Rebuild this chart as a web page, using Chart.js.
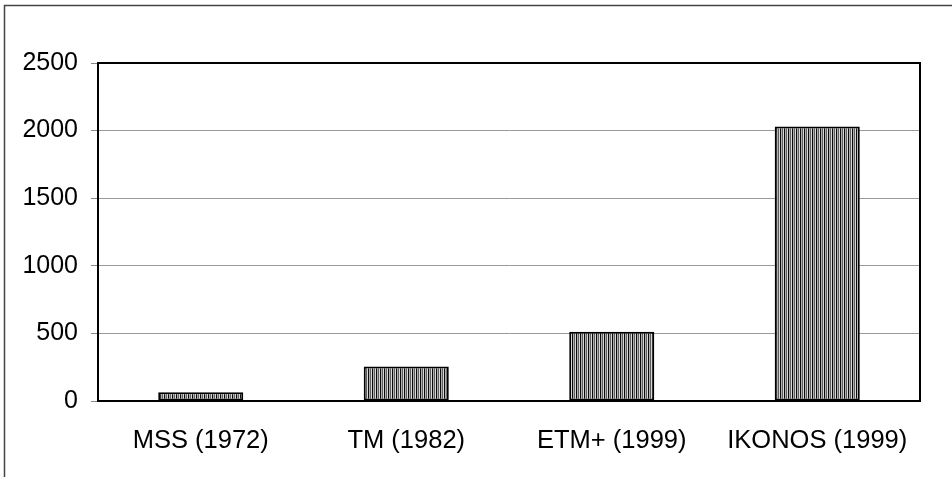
<!DOCTYPE html>
<html>
<head>
<meta charset="utf-8">
<script src="https://cdn.jsdelivr.net/npm/chart.js@4/dist/chart.umd.min.js"></script>
<style>
html,body{margin:0;padding:0;background:#fff;}
#wrap{width:952px;height:477px;position:relative;}
</style>
</head>
<body>
<div id="wrap"><canvas id="c" width="952" height="477"></canvas></div>
<script>
const categories = ["MSS (1972)", "TM (1982)", "ETM+ (1999)", "IKONOS (1999)"];
const values = [64, 256, 512, 2030];
const yTicks = [0, 500, 1000, 1500, 2000, 2500];

function makePattern(ctx) {
  const p = document.createElement('canvas');
  p.width = 4; p.height = 4;
  const g = p.getContext('2d');
  const cols = ['#0a0a0a', '#b0b0b0', '#5e5e5e', '#d8d8d8'];
  for (let i = 0; i < 4; i++) { g.fillStyle = cols[i]; g.fillRect(i, 0, 1, 4); }
  return ctx.createPattern(p, 'repeat');
}

const frame = {
  id: 'frame',
  beforeDraw(chart) {
    const ctx = chart.ctx;
    ctx.save();
    ctx.strokeStyle = '#444';
    ctx.lineWidth = 1.5;
    ctx.beginPath();
    ctx.moveTo(4.5, 477);
    ctx.lineTo(4.5, 5.5);
    ctx.lineTo(952, 5.5);
    ctx.stroke();
    ctx.restore();
  },
  afterDatasetsDraw(chart) {
    const a = chart.chartArea, ctx = chart.ctx;
    ctx.save();
    ctx.strokeStyle = '#000';
    ctx.lineWidth = 2;
    ctx.strokeRect(a.left, a.top, a.right - a.left, a.bottom - a.top);
    ctx.restore();
  }
};

const ctx = document.getElementById('c').getContext('2d');
new Chart(ctx, {
  type: 'bar',
  data: {
    labels: categories,
    datasets: [{
      data: values,
      backgroundColor: makePattern(ctx),
      borderColor: '#000',
      borderWidth: 2,
      borderSkipped: false,
      categoryPercentage: 1,
      barPercentage: 0.414
    }]
  },
  options: {
    responsive: false,
    animation: false,
    devicePixelRatio: 1,
    layout: { padding: { left: 0, top: 63, right: 32, bottom: 0 } },
    plugins: { legend: { display: false }, tooltip: { enabled: false } },
    scales: {
      x: {
        afterFit(s) { s.height = 76; },
        grid: { display: false },
        border: { display: true, color: '#000', width: 2 },
        ticks: { color: '#000', padding: 17, font: { family: 'Liberation Sans, Arial', size: 25.5 } }
      },
      y: {
        min: 0, max: 2500,
        afterFit(s) { s.width = 98; },
        afterBuildTicks(s) { s.ticks = yTicks.map(v => ({ value: v })); },
        grid: { color: '#999', lineWidth: 1, tickLength: 7, tickColor: '#888' },
        border: { display: true, color: '#000', width: 2 },
        ticks: { color: '#000', padding: 13, callback: v => String(v), font: { family: 'Liberation Sans, Arial', size: 25 } }
      }
    }
  },
  plugins: [frame]
});
</script>
</body>
</html>
